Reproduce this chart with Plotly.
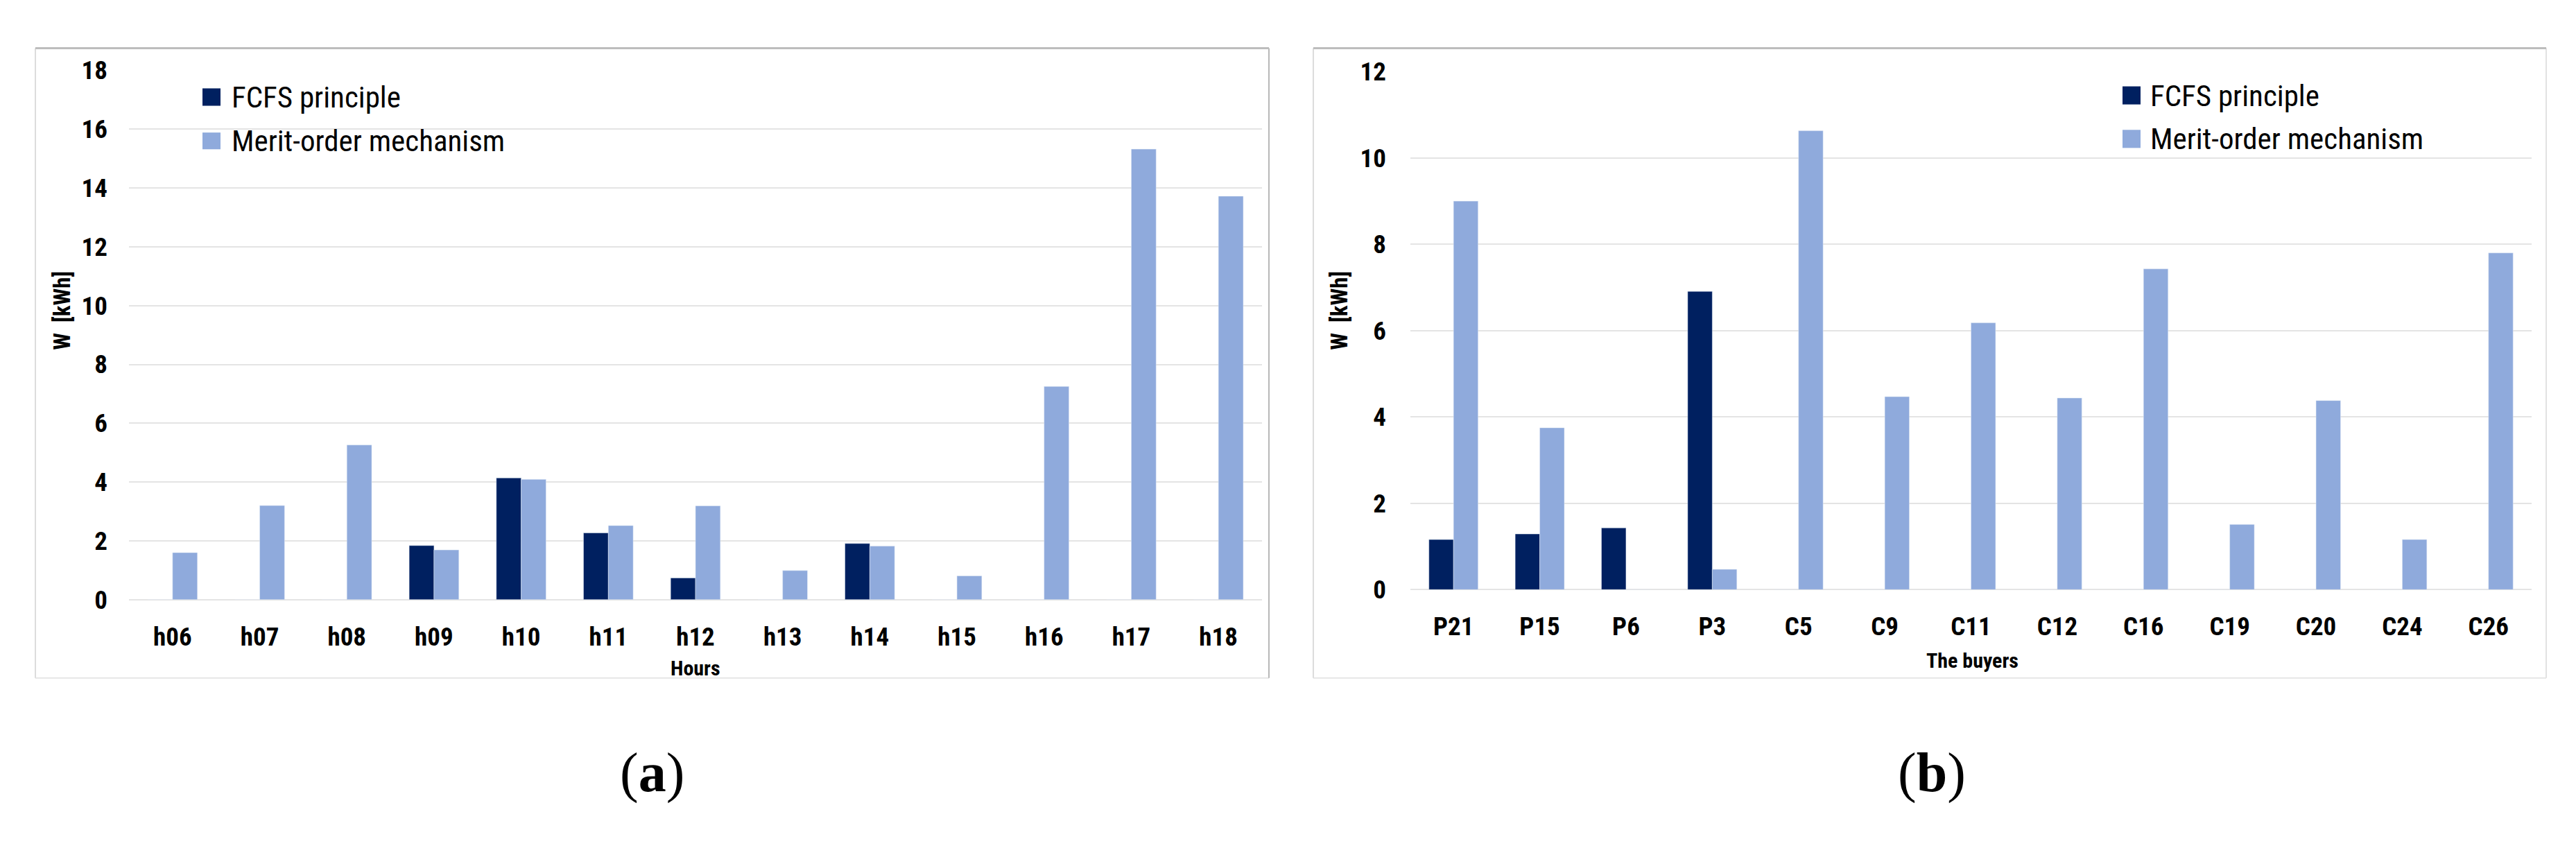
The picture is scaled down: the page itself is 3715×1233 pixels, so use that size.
import plotly.graph_objects as go

W, H = 3715, 1233

hours = ["h06", "h07", "h08", "h09", "h10", "h11", "h12", "h13", "h14", "h15", "h16", "h17", "h18"]
fcfs_hours = [0, 0, 0, 1.84, 4.14, 2.27, 0.74, 0, 1.91, 0, 0, 0, 0]
merit_hours = [1.60, 3.20, 5.26, 1.69, 4.09, 2.52, 3.19, 0.99, 1.82, 0.81, 7.25, 15.32, 13.72]

buyers = ["P21", "P15", "P6", "P3", "C5", "C9", "C11", "C12", "C16", "C19", "C20", "C24", "C26"]
fcfs_buyers = [1.16, 1.29, 1.43, 6.91, 0, 0, 0, 0, 0, 0, 0, 0, 0]
merit_buyers = [9.00, 3.75, 0, 0.47, 10.63, 4.47, 6.18, 4.44, 7.43, 1.51, 4.38, 1.16, 7.80]

series_names = ["FCFS principle", "Merit-order mechanism"]
colors = ["#002060", "#8FAADC"]

FONT = "Liberation Sans Narrow, Roboto Condensed, DejaVu Sans Condensed, Arial Narrow, sans-serif"
SERIF = "Liberation Serif, DejaVu Serif, serif"

def px(x):
    return x / W

def py(y):
    return 1 - y / H

fig = go.Figure()
fig.add_trace(go.Bar(x=hours, y=fcfs_hours, name=series_names[0], marker_color=colors[0],
                     xaxis="x", yaxis="y", showlegend=False))
fig.add_trace(go.Bar(x=hours, y=merit_hours, name=series_names[1], marker_color=colors[1],
                     xaxis="x", yaxis="y", showlegend=False))
fig.add_trace(go.Bar(x=buyers, y=fcfs_buyers, name=series_names[0], marker_color=colors[0],
                     xaxis="x2", yaxis="y2", showlegend=False))
fig.add_trace(go.Bar(x=buyers, y=merit_buyers, name=series_names[1], marker_color=colors[1],
                     xaxis="x2", yaxis="y2", showlegend=False))

tickfont = dict(family=FONT, size=37, color="#000000", weight="bold")
grid = dict(showgrid=True, gridcolor="#E4E4E4", gridwidth=2, zeroline=True,
            zerolinecolor="#E4E4E4", zerolinewidth=2, showline=False, ticks="")

fig.update_layout(
    width=W, height=H,
    margin=dict(l=0, r=0, t=0, b=0),
    paper_bgcolor="white", plot_bgcolor="white",
    barmode="group", bargap=0.43, bargroupgap=0,
    xaxis=dict(domain=[px(178), px(1812)], type="category", showgrid=False, showline=False,
               ticks="", tickfont=tickfont, ticklabelstandoff=28, anchor="y"),
    yaxis=dict(domain=[py(866), py(75)], range=[0, 18], dtick=2, tickfont=tickfont,
               ticklabelstandoff=30, anchor="x", **grid),
    xaxis2=dict(domain=[px(2026), px(3643)], type="category", showgrid=False, showline=False,
                ticks="", tickfont=tickfont, ticklabelstandoff=28, anchor="y2"),
    yaxis2=dict(domain=[py(851), py(77)], range=[0, 12], dtick=2, tickfont=tickfont,
                ticklabelstandoff=34, anchor="x2", **grid),
)

shapes = []
annotations = []

def seg(x0, y0, x1, y1, color, width):
    shapes.append(dict(type="line", xref="paper", yref="paper", x0=px(x0), x1=px(x1),
                       y0=py(y0), y1=py(y1), line=dict(color=color, width=width), layer="below"))

# panel frames (top edge darker, as in the reference)
for (x0, x1, right_col) in [(43, 1822, "#B8B8B8"), (1886, 3664, "#E2E2E2")]:
    seg(x0, 983, x1, 983, "#E6E6E6", 2)
    seg(x0, 42, x0, 983, "#DCDCDC", 2)
    seg(x1, 42, x1, 983, right_col, 2)
    seg(x0, 42, x1, 42, "#BDBDBD", 3)

# legends
for (sx, tx, ys) in [(284, 324, [(102, 128), (168, 193)]), (3053, 3091, [(99, 126), (164, 191)])]:
    for i, (y0, y1) in enumerate(ys):
        shapes.append(dict(type="rect", xref="paper", yref="paper", x0=px(sx), x1=px(sx + 26),
                           y0=py(y1), y1=py(y0), line=dict(width=0), fillcolor=colors[i]))
        annotations.append(dict(text=series_names[i], xref="paper", yref="paper",
                                x=px(tx), y=py((y0 + y1) / 2), xanchor="left", yanchor="middle",
                                showarrow=False, font=dict(family=FONT, size=43, color="#000000")))

# axis titles
title_font = dict(family=FONT, size=30, color="#000000", weight="bold")
annotations.append(dict(text="Hours", xref="paper", yref="paper", x=px(995), y=py(968),
                        xanchor="center", yanchor="middle", showarrow=False, font=title_font))
annotations.append(dict(text="The buyers", xref="paper", yref="paper", x=px(2836), y=py(957),
                        xanchor="center", yanchor="middle", showarrow=False, font=title_font))
ytitle_font = dict(family=FONT, size=33, color="#000000", weight="bold")
annotations.append(dict(text="W  [kWh]", xref="paper", yref="paper", x=px(82), y=py(434),
                        xanchor="center", yanchor="middle", textangle=-90, showarrow=False,
                        font=ytitle_font))
annotations.append(dict(text="W  [kWh]", xref="paper", yref="paper", x=px(1924), y=py(434),
                        xanchor="center", yanchor="middle", textangle=-90, showarrow=False,
                        font=ytitle_font))

# sub-captions
cap_font = dict(family=SERIF, size=80, color="#000000")
annotations.append(dict(text="(<b>a</b>)", xref="paper", yref="paper", x=px(933), y=py(1125),
                        xanchor="center", yanchor="middle", showarrow=False, font=cap_font))
annotations.append(dict(text="(<b>b</b>)", xref="paper", yref="paper", x=px(2778), y=py(1125),
                        xanchor="center", yanchor="middle", showarrow=False, font=cap_font))

fig.update_layout(shapes=shapes, annotations=annotations)
fig.write_html("out.html")
